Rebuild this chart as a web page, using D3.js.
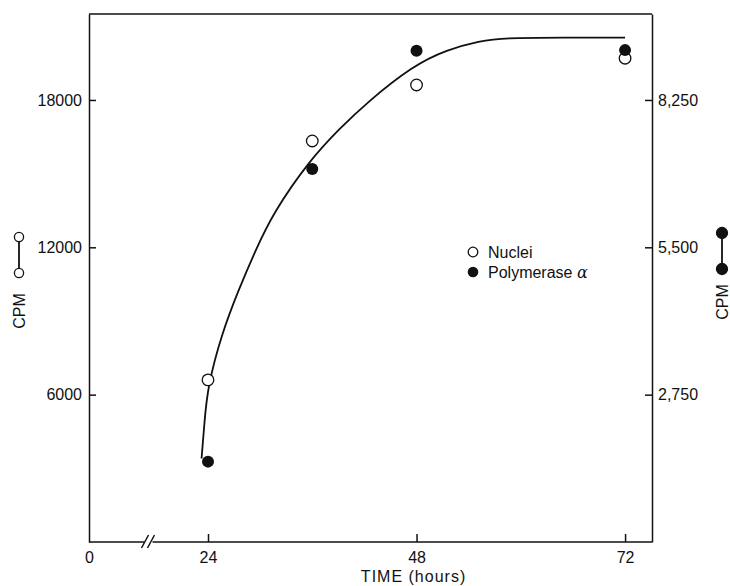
<!DOCTYPE html>
<html>
<head>
<meta charset="utf-8">
<script src="https://cdn.jsdelivr.net/npm/d3@7"></script>
<style>
  body { margin: 0; background: #fff; }
  svg { display: block; font-family: "Liberation Sans", Arial, sans-serif; }
  .axis text { font-size: 16px; fill: #111; }
  .axis path, .axis line { stroke: #111; stroke-width: 1.5; }
</style>
</head>
<body>
<div id="chart"></div>
<script>
// time points (hours)
const times = [24, 36, 48, 72];
// nuclei, left axis CPM
const nuclei = [6600, 16330, 18610, 19700];
// polymerase alpha, right axis CPM
const polymerase = [1500, 6960, 9170, 9180];
// fitted curve (hours, left CPM)
const curveT = [22.7, 23.3, 23.9, 25.6, 27.5, 29.5, 31.5, 35.7, 39.2, 42.3, 47.6, 51.5, 55.3, 58, 65, 72];
const curveV = [3400, 4900, 6300, 8500, 10250, 11900, 13400, 15550, 16850, 17900, 19400, 20050, 20400, 20530, 20540, 20540];
const xTicks = [0, 24, 48, 72];
const leftTicks = [6000, 12000, 18000];
const rightTicks = [2750, 5500, 8250];

const width = 730, height = 586;
const margin = { top: 14, right: 78, bottom: 44, left: 89 };

const svg = d3.select("#chart").append("svg")
    .attr("width", width)
    .attr("height", height);

// broken x axis: 0..24 squeezed, 24..75 linear
const x = d3.scaleLinear()
    .domain([0, 24, 75.1])
    .range([margin.left, 208, width - margin.right]);

const y = d3.scaleLinear()
    .domain([0, 21500])
    .range([height - margin.bottom, margin.top]);

const yR = d3.scaleLinear()
    .domain([0, 21500 * 2750 / 6000])
    .range([height - margin.bottom, margin.top]);

// top frame line
svg.append("line")
    .attr("x1", margin.left).attr("x2", width - margin.right)
    .attr("y1", margin.top).attr("y2", margin.top)
    .attr("stroke", "#111").attr("stroke-width", 1.5);

// left axis, ticks pointing in
svg.append("g")
    .attr("class", "axis")
    .attr("transform", `translate(${margin.left},0)`)
    .call(d3.axisLeft(y).tickValues(leftTicks).tickSize(-7).tickSizeOuter(0).tickPadding(7).tickFormat(d3.format("d")));

// right axis
svg.append("g")
    .attr("class", "axis")
    .attr("transform", `translate(${width - margin.right},0)`)
    .call(d3.axisRight(yR).tickValues(rightTicks).tickSize(-7).tickSizeOuter(0).tickPadding(6).tickFormat(d3.format(",")));

// bottom axis with a break
const xAxis = svg.append("g")
    .attr("class", "axis")
    .attr("transform", `translate(0,${height - margin.bottom})`)
    .call(d3.axisBottom(x).tickValues(xTicks).tickSize(-8).tickPadding(10));
xAxis.select(".domain").remove();
xAxis.selectAll(".tick").filter(d => d === 0).select("line").remove();

const brk = 12;
const bx = x(brk);
xAxis.append("line")
    .attr("x1", x(0)).attr("x2", bx - 4).attr("y1", 0).attr("y2", 0)
    .attr("stroke", "#111").attr("stroke-width", 1.5);
xAxis.append("line")
    .attr("x1", bx + 4).attr("x2", width - margin.right).attr("y1", 0).attr("y2", 0)
    .attr("stroke", "#111").attr("stroke-width", 1.5);
[-3, 3].forEach(o => {
    xAxis.append("line")
        .attr("x1", bx + o - 4).attr("y1", 6)
        .attr("x2", bx + o + 3).attr("y2", -7)
        .attr("stroke", "#111").attr("stroke-width", 1.4);
});

// axis title
svg.append("text")
    .attr("x", x(48) - 3)
    .attr("y", 582)
    .attr("text-anchor", "middle")
    .attr("font-size", 16)
    .attr("letter-spacing", 1)
    .attr("fill", "#111")
    .text("TIME (hours)");

// fitted curve
const curvePts = curveT.map((t, i) => [t, curveV[i]]);
svg.append("path")
    .datum(curvePts)
    .attr("fill", "none")
    .attr("stroke", "#111")
    .attr("stroke-width", 1.8)
    .attr("d", d3.line()
        .x(d => x(d[0]))
        .y(d => y(d[1]))
        .curve(d3.curveBasis));

// nuclei points (open)
svg.append("g").selectAll("circle")
    .data(times.map((t, i) => ({ t, v: nuclei[i] })))
    .join("circle")
    .attr("cx", d => x(d.t))
    .attr("cy", d => y(d.v))
    .attr("r", 5.8)
    .attr("fill", "#fff")
    .attr("stroke", "#111")
    .attr("stroke-width", 1.3);

// polymerase points (filled)
svg.append("g").selectAll("circle")
    .data(times.map((t, i) => ({ t, v: polymerase[i] })))
    .join("circle")
    .attr("cx", d => x(d.t))
    .attr("cy", d => yR(d.v))
    .attr("r", 6)
    .attr("fill", "#111");

// legend
const legend = svg.append("g").attr("transform", "translate(473,252)");
legend.append("circle").attr("r", 4.8).attr("fill", "#fff").attr("stroke", "#111").attr("stroke-width", 1.3);
legend.append("circle").attr("cy", 20).attr("r", 5.3).attr("fill", "#111");
legend.append("text").attr("x", 15).attr("y", 6).attr("font-size", 16).attr("fill", "#111").text("Nuclei");
const poly = legend.append("text").attr("x", 15).attr("y", 26).attr("font-size", 16).attr("fill", "#111");
poly.append("tspan").text("Polymerase ");
poly.append("tspan").attr("font-style", "italic").attr("font-family", "'DejaVu Serif', serif").text("\u03b1");

// axis labels with their marker keys
function cpmLabel(cx, cyTop, textY, filled) {
    const g = svg.append("g");
    g.append("line")
        .attr("x1", cx).attr("x2", cx)
        .attr("y1", cyTop).attr("y2", cyTop + 36)
        .attr("stroke", "#111").attr("stroke-width", 1.8);
    [cyTop, cyTop + 36].forEach(cy => {
        g.append("circle")
            .attr("cx", cx).attr("cy", cy)
            .attr("r", filled ? 5.5 : 4.6)
            .attr("fill", filled ? "#111" : "#fff")
            .attr("stroke", "#111").attr("stroke-width", 1.3);
    });
    g.append("text")
        .attr("transform", `translate(${cx + 6},${textY}) rotate(-90)`)
        .attr("text-anchor", "middle")
        .attr("font-size", 16)
        .attr("fill", "#111")
        .text("CPM");
}
cpmLabel(19, 237, 311, false);
cpmLabel(722, 233, 302, true);
</script>
</body>
</html>
